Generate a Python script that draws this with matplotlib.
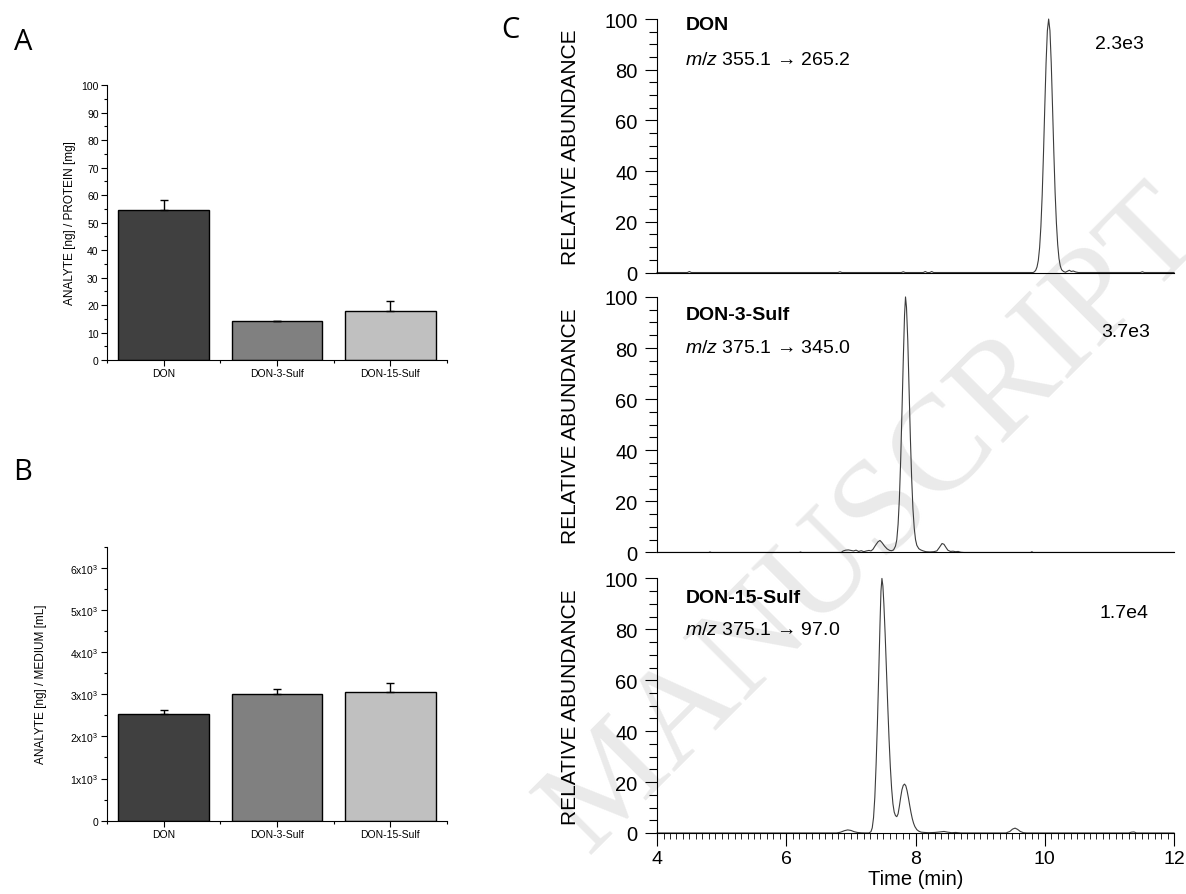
import numpy as np
import matplotlib
matplotlib.use("Agg")
from matplotlib import pyplot as plt
from matplotlib.ticker import MultipleLocator, FuncFormatter, FixedLocator

plt.rcParams['font.family'] = ['Liberation Sans', 'DejaVu Sans']
plt.rcParams['mathtext.fontset'] = 'custom'
plt.rcParams['mathtext.rm'] = 'Liberation Sans'
plt.rcParams['mathtext.it'] = 'Liberation Sans:italic'

# bar panels
categories = ['DON', 'DON-3-Sulf', 'DON-15-Sulf']
bar_colors = ['#404040', '#808080', '#c0c0c0']
cell_vals = [54.4, 14.3, 17.7]          # ng analyte / mg protein
cell_errs = [3.8, 0.0, 3.8]
medium_vals = [2520, 3015, 3060]        # ng analyte / mL medium
medium_errs = [100, 105, 210]

# chromatograms (time [min], relative abundance [%])
don_trace = [(4.0, 0), (4.47, 0), (4.50, 0.4), (4.53, 0), (6.80, 0), (6.83, 0.3), (6.86, 0),
             (7.78, 0), (7.81, 0.3), (7.84, 0), (8.12, 0), (8.15, 0.4), (8.18, 0), (8.22, 0),
             (8.25, 0.4), (8.28, 0), (9.82, 0), (9.84, 0.3), (9.86, 0.9), (9.88, 2.2),
             (9.90, 4.8), (9.92, 9.8), (9.94, 18.2), (9.96, 30.6), (9.98, 46.9), (10.00, 65.3),
             (10.02, 82.7), (10.04, 95.4), (10.06, 100), (10.08, 95.4), (10.10, 82.7),
             (10.12, 65.3), (10.14, 47.5), (10.16, 31.5), (10.18, 19.5), (10.20, 11.0),
             (10.22, 5.5), (10.24, 2.6), (10.26, 1.1), (10.29, 0.4), (10.32, 0.1),
             (10.35, 0.5), (10.38, 0.9), (10.41, 0.4), (10.44, 0.6), (10.48, 0.2), (10.52, 0),
             (11.48, 0), (11.51, 0.3), (11.54, 0), (12.0, 0)]
don3_trace = [(4.0, 0), (4.80, 0), (4.82, 0.2), (4.84, 0), (6.20, 0), (6.22, 0.2), (6.24, 0),
              (6.85, 0), (6.88, 0.6), (6.92, 0.9), (6.96, 1.0), (7.00, 0.8), (7.04, 0.6),
              (7.08, 0.9), (7.12, 0.4), (7.16, 0.7), (7.20, 0.3), (7.24, 0.6), (7.28, 0.8),
              (7.31, 0.6), (7.34, 1.2), (7.38, 2.8), (7.42, 4.2), (7.45, 4.7), (7.48, 3.9),
              (7.52, 2.5), (7.56, 1.4), (7.60, 0.8), (7.63, 0.7), (7.66, 1.0), (7.69, 2.5),
              (7.71, 5), (7.73, 11), (7.75, 21), (7.77, 36), (7.79, 55), (7.81, 75), (7.83, 93),
              (7.845, 100), (7.86, 96), (7.88, 83), (7.90, 64), (7.92, 45), (7.94, 29),
              (7.96, 17), (7.98, 9.5), (8.00, 5), (8.02, 2.8), (8.05, 1.5), (8.08, 1.0),
              (8.12, 0.6), (8.16, 0.3), (8.22, 0.2), (8.28, 0.3), (8.33, 0.6), (8.37, 2.0),
              (8.41, 3.5), (8.44, 3.2), (8.47, 2.0), (8.50, 0.9), (8.54, 0.4), (8.58, 0.5),
              (8.62, 0.3), (8.66, 0.4), (8.70, 0.1), (8.75, 0), (9.78, 0), (9.80, 0.3),
              (9.82, 0), (12.0, 0)]
don15_trace = [(4.0, 0), (6.78, 0), (6.84, 0.3), (6.90, 0.9), (6.95, 1.2), (7.00, 1.0),
               (7.05, 0.5), (7.10, 0.2), (7.16, 0.05), (7.22, 0), (7.28, 0), (7.31, 0.5),
               (7.33, 2), (7.35, 6), (7.37, 14), (7.39, 27), (7.41, 43), (7.43, 62), (7.45, 82),
               (7.465, 95), (7.48, 100), (7.495, 97), (7.51, 90), (7.53, 78), (7.55, 64),
               (7.57, 50), (7.59, 37), (7.61, 26), (7.63, 17.5), (7.65, 11.5), (7.67, 8.2),
               (7.69, 6.8), (7.71, 6.4), (7.73, 7.5), (7.75, 10.5), (7.77, 14), (7.79, 17),
               (7.81, 18.7), (7.83, 19.2), (7.85, 18.5), (7.87, 16.5), (7.89, 13.8),
               (7.91, 10.8), (7.93, 8), (7.95, 5.6), (7.97, 3.8), (7.99, 2.5), (8.02, 1.3),
               (8.05, 0.7), (8.09, 0.3), (8.14, 0.2), (8.20, 0.1), (8.30, 0.2), (8.38, 0.4),
               (8.44, 0.6), (8.50, 0.3), (8.56, 0.1), (8.62, 0.2), (8.70, 0), (9.40, 0),
               (9.46, 0.6), (9.50, 1.5), (9.54, 1.9), (9.58, 1.4), (9.62, 0.6), (9.67, 0.1),
               (9.72, 0), (11.30, 0), (11.34, 0.3), (11.38, 0.4), (11.42, 0), (12.0, 0)]

chrom_names = ['DON', 'DON-3-Sulf', 'DON-15-Sulf']
chrom_mz = [r'$\it{m/z}$ 355.1 → 265.2', r'$\it{m/z}$ 375.1 → 345.0', r'$\it{m/z}$ 375.1 → 97.0']
chrom_scale = ['2.3e3', '3.7e3', '1.7e4']

name_y = [97.8, 93.0, 92.7]
mz_y = [84.2, 80.4, 79.8]
scale_x = [11.15, 11.25, 11.22]
scale_y = [90.5, 86.3, 86.8]


def bar_panel(ax, vals, errs, ylabel, ymax, major, minor, fmt=None):
    x = np.arange(len(categories))
    ax.bar(x, vals, width=0.8, color=bar_colors, edgecolor='black', linewidth=1, zorder=2)
    ax.errorbar(x, vals, yerr=[np.zeros(len(vals)), errs], fmt='none', ecolor='black',
                elinewidth=1, capsize=3, capthick=1, zorder=3)
    ax.set_xlim(-0.5, 2.5)
    ax.set_ylim(0, ymax)
    ax.set_facecolor('none')
    for s in ['top', 'right']:
        ax.spines[s].set_visible(False)
    ax.set_xticks(x)
    ax.set_xticklabels(categories, fontsize=8.5)
    ax.xaxis.set_minor_locator(FixedLocator([-0.5, 0.5, 1.5, 2.5]))
    ax.yaxis.set_major_locator(MultipleLocator(major))
    ax.yaxis.set_minor_locator(MultipleLocator(minor))
    if fmt is not None:
        ax.yaxis.set_major_formatter(FuncFormatter(fmt))
    ax.tick_params(which='major', length=4, width=0.8, labelsize=7.5, pad=2)
    ax.tick_params(which='minor', length=2, width=0.8)
    ax.set_ylabel(ylabel, fontsize=8.5)


def chrom_panel(ax, trace, i, last):
    t, a = np.array(trace).T
    ax.plot(t, a, color='#3c3c3c', lw=0.8, clip_on=False)
    ax.set_xlim(4, 12)
    ax.set_ylim(0, 100)
    ax.set_facecolor('none')
    for s in ['top', 'right']:
        ax.spines[s].set_visible(False)
    ax.yaxis.set_major_locator(MultipleLocator(20))
    ax.yaxis.set_minor_locator(MultipleLocator(5))
    ax.tick_params(axis='y', which='major', length=9, width=0.8, labelsize=14.5, pad=5)
    ax.tick_params(axis='y', which='minor', length=6, width=0.8)
    ax.set_ylabel('RELATIVE ABUNDANCE', fontsize=15)
    ax.yaxis.set_label_coords(-0.149, 0.5)
    if last:
        ax.xaxis.set_major_locator(MultipleLocator(2))
        ax.xaxis.set_minor_locator(MultipleLocator(0.1))
        ax.tick_params(axis='x', which='major', length=9, width=0.8, labelsize=14, pad=3)
        ax.tick_params(axis='x', which='minor', length=4, width=0.6)
        ax.set_xlabel('Time (min)', fontsize=14.5, labelpad=2)
    else:
        ax.tick_params(axis='x', which='both', bottom=False, labelbottom=False)
    ax.text(4.44, name_y[i], chrom_names[i], fontsize=14, fontweight='bold', va='center')
    ax.text(4.44, mz_y[i], chrom_mz[i], fontsize=14, va='center')
    ax.text(scale_x[i], scale_y[i], chrom_scale[i], fontsize=14, va='center', ha='center')


fig = plt.figure(figsize=(11.86, 8.95), dpi=100)

axA = fig.add_axes([0.0902, 0.5966, 0.2867, 0.3073])
bar_panel(axA, cell_vals, cell_errs, 'ANALYTE [ng] / PROTEIN [mg]', 100, 10, 5)

axB = fig.add_axes([0.0902, 0.0819, 0.2867, 0.3061])
bar_panel(axB, medium_vals, medium_errs, 'ANALYTE [ng] / MEDIUM [mL]', 6500, 1000, 500,
          fmt=lambda v, p: '0' if v == 0 else r'%dx10$^{3}$' % round(v / 1000))
axB.yaxis.set_label_coords(-0.175, 0.5)

c_left, c_width = 0.554, 0.4359
c_rows = [(0.6944, 0.2832), (0.3816, 0.2855), (0.0682, 0.2844)]
traces = [don_trace, don3_trace, don15_trace]
for i, (b, h) in enumerate(c_rows):
    ax = fig.add_axes([c_left, b, c_width, h])
    chrom_panel(ax, traces[i], i, i == 2)

for lbl, x, y in [('A', 23, 43), ('B', 23, 473), ('C', 510, 30)]:
    fig.text(x / 1186, 1 - y / 895, lbl, fontsize=21, ha='center', va='center',
             family=['Open Sans', 'DejaVu Sans'])

# journal watermark
fig.text(875 / 1186, 1 - 522 / 895, 'MANUSCRIPT', fontsize=98,
         family=['Liberation Serif', 'DejaVu Serif'], color='#eaeaea', rotation=45,
         ha='center', va='center', rotation_mode='anchor', zorder=-1)

fig.savefig('out.png', dpi=100)
